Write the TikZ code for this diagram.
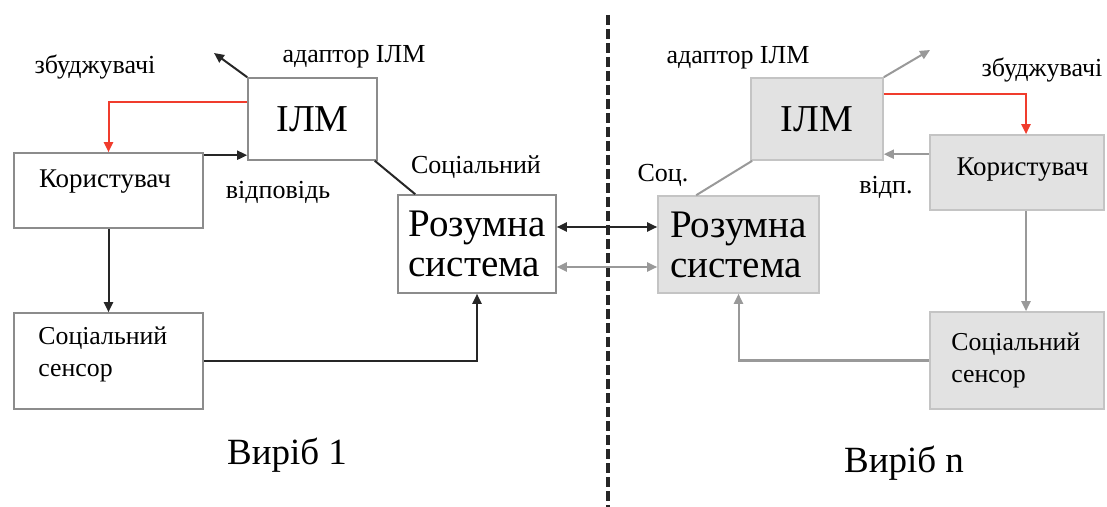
\documentclass[tikz,border=0pt]{standalone}
\usepackage{fontspec}
\setmainfont{Liberation Serif}
\usepackage{xcolor}
\usetikzlibrary{arrows.meta,calc}
\definecolor{boxline}{HTML}{8C8C8C}
\definecolor{greyfill}{HTML}{E2E2E2}
\definecolor{greyline}{HTML}{C4C4C4}
\definecolor{greyarrow}{HTML}{999999}
\definecolor{redarrow}{HTML}{F03C2D}

\begin{document}
\begin{tikzpicture}[x=0.5pt,y=-0.5pt,
  whitebox/.style={draw=boxline,line width=0.8pt,fill=white,inner sep=0pt},
  greybox/.style={draw=greyline,line width=0.8pt,fill=greyfill,inner sep=0pt},
  tip/.style={-{Triangle[length=5pt,width=4.5pt]}},
  twoway/.style={{Triangle[length=5pt,width=4.5pt]}-{Triangle[length=5pt,width=4.5pt]}},
  blackarrow/.style={tip,line width=1pt,black!85},
  greyarr/.style={tip,line width=1pt,greyarrow},
  redarr/.style={tip,line width=1pt,redarrow},
  lbl/.style={font=\fontsize{13}{15}\selectfont},
  boxtext/.style={font=\fontsize{13.5}{16}\selectfont},
  sensortext/.style={font=\fontsize{12.9}{16}\selectfont,align=left,anchor=west,inner sep=0pt}]
  \useasboundingbox (0,0) rectangle (1107,507);
  % left boxes
  \node[whitebox,minimum width=64.5pt,minimum height=41pt,font=\fontsize{19}{22}\selectfont] at(312.5,119)(ilmL){ІЛМ};
  \node[whitebox,minimum width=94.5pt,minimum height=37.5pt] at(108.5,190.5)(userL){};
  \node[whitebox,minimum width=94.5pt,minimum height=48pt] at(108.5,361)(sensL){};
  \node[whitebox,minimum width=79pt,minimum height=49pt,align=left,font=\fontsize{19.5}{20}\selectfont] at(477,244)(smartL){Розумна\\система};
  % right boxes
  \node[greybox,minimum width=66pt,minimum height=41pt,font=\fontsize{19}{22}\selectfont] at(817,119)(ilmR){ІЛМ};
  \node[greybox,minimum width=87pt,minimum height=37.5pt] at(1017,172.5)(userR){};
  \node[greybox,minimum width=87pt,minimum height=48.5pt] at(1017,360.5)(sensR){};
  \node[greybox,minimum width=80.5pt,minimum height=48.5pt,align=left,font=\fontsize{19.5}{20}\selectfont] at(738.5,244.5)(smartR){Розумна\\система};
  % box texts
  \node[boxtext] at(105,182)(userLt){Користувач};
  \node[sensortext] at(38,354)(sensLt){Соціальний\\сенсор};
  \node[boxtext] at(1022.5,170)(userRt){Користувач};
  \node[sensortext] at(951,360)(sensRt){Соціальний\\сенсор};
  % texts
  \node[lbl] at(95,67)(excL){збуджувачі};
  \node[lbl] at(354,57)(adaLt){адаптор ІЛМ};
  \node[lbl] at(476,167)(socL){Соціальний};
  \node[lbl] at(278,192)(ansL){відповідь};
  \node[lbl] at(738,58)(adaRt){адаптор ІЛМ};
  \node[lbl] at(1042,70)(excR){збуджувачі};
  \node[lbl] at(663,175)(socR){Соц.};
  \node[lbl] at(886,187)(ansR){відп.};
  \node[font=\fontsize{18.5}{21}\selectfont] at(287,455)(prod1){Виріб 1};
  \node[font=\fontsize{18.5}{21}\selectfont] at(904,463)(prodn){Виріб n};
  % free ends
  \coordinate (adaL) at (214,53);
  \coordinate (adaR) at (930,50);
  \coordinate (divtop) at (608,15);
  \coordinate (divbot) at (608,507);
  % divider
  \draw[line width=1.6pt,dash pattern=on 5pt off 2pt,black!85] (divtop) -- (divbot);
  % left arrows
  \draw[blackarrow] (ilmL.north west) -- (adaL);
  \draw[redarr] ($(ilmL.north west)!0.3!(ilmL.south west)$) -| (userL.north);
  \draw[blackarrow] ([yshift=-1.5pt]userL.north east) -- ([yshift=-1.5pt]userL.north east -| ilmL.west);
  \draw[line width=1pt,black!85] ([xshift=-1.5pt]ilmL.south east) -- ([xshift=9pt]smartL.north west);
  \draw[blackarrow] (userL) -- (sensL);
  \draw[blackarrow] (sensL.east) -| (smartL.south);
  % links between the two products
  \draw[line width=1pt,black!85,twoway] ([yshift=8.5pt]smartL.east) -- ([yshift=8.5pt]smartL.east -| smartR.west);
  \draw[line width=1pt,greyarrow,twoway] ([yshift=-11.5pt]smartL.east) -- ([yshift=-11.5pt]smartL.east -| smartR.west);
  % right arrows
  \draw[greyarr] (ilmR.north east) -- (adaR);
  \draw[redarr] ($(ilmR.north east)!0.2!(ilmR.south east)$) -| ([xshift=4.5pt]userR.north);
  \draw[greyarr] ([yshift=-10pt]userR.north west) -- ([yshift=-10pt]userR.north west -| ilmR.east);
  \draw[line width=1pt,greyarrow] ([xshift=1pt]ilmR.south west) -- ([xshift=19.5pt]smartR.north west);
  \draw[greyarr] ([xshift=4.5pt]userR.south) -- ([xshift=4.5pt]sensR.north);
  \draw[greyarr] (sensR.west) -| (smartR.south);
\end{tikzpicture}
\end{document}
